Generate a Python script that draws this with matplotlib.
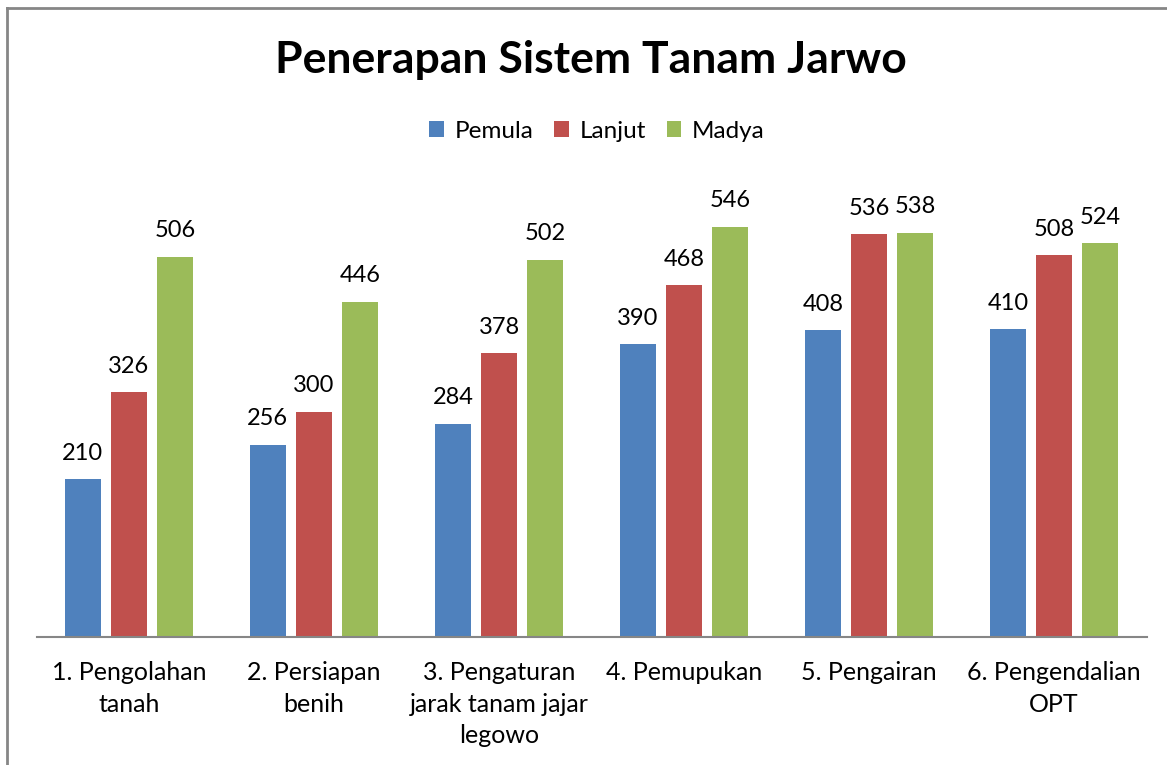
import matplotlib
matplotlib.use("Agg")
import matplotlib.pyplot as plt
from matplotlib.lines import Line2D
from matplotlib.patches import Patch
import numpy as np

categories = ["1. Pengolahan\ntanah", "2. Persiapan\nbenih",
              "3. Pengaturan\njarak tanam jajar\nlegowo", "4. Pemupukan",
              "5. Pengairan", "6. Pengendalian\nOPT"]
series_names = ["Pemula", "Lanjut", "Madya"]
pemula = [210, 256, 284, 390, 408, 410]
lanjut = [326, 300, 378, 468, 536, 508]
madya = [506, 446, 502, 546, 538, 524]
colors = ["#4F81BD", "#C0504D", "#9BBB59"]
title = "Penerapan Sistem Tanam Jarwo"

FONT = "Lato"
W, H = 1167, 765
fig = plt.figure(figsize=(W / 100, H / 100), dpi=100)

# axes placement in pixels
left, right, bottom, top = 36.5, 1146.5, 765 - 637, 765 - 186
ax = fig.add_axes([left / W, bottom / H, (right - left) / W, (top - bottom) / H])

x = np.arange(len(categories))
step = 0.249
width = 0.195
for i, (name, vals) in enumerate(zip(series_names, [pemula, lanjut, madya])):
    bars = ax.bar(x + (i - 1) * step, vals, width=width, color=colors[i], label=name, zorder=2)
    for b, v in zip(bars, vals):
        ax.annotate(str(v), (b.get_x() + b.get_width() / 2, v), xytext=(0, 11),
                    textcoords="offset points", ha="center", va="bottom",
                    fontsize=17, family=FONT, color="#000000")

ax.set_xlim(-0.5, len(categories) - 0.5)
ax.set_ylim(0, 600)
ax.set_yticks([])
for s in ["top", "right", "left"]:
    ax.spines[s].set_visible(False)
ax.spines["bottom"].set_color("#868686")
ax.spines["bottom"].set_linewidth(1.5)
ax.set_xticks(x)
ax.set_xticklabels(categories, fontsize=18, family=FONT, color="#000000", linespacing=1.47)
ax.tick_params(axis="x", length=0, pad=17)

fig.text(591 / W, 1 - 60 / H, title, ha="center", va="center", fontsize=32,
         fontweight="bold", family=FONT)

handles = [Patch(facecolor=c, edgecolor="none") for c in colors]
fig.legend(handles, series_names, loc="center", bbox_to_anchor=(597 / W, 1 - 131 / H),
           ncol=3, frameon=False, prop={"family": FONT, "size": 17.5},
           handlelength=0.6, handleheight=0.6, handletextpad=0.45, columnspacing=0.85)

# frame lines (top and left)
fig.add_artist(Line2D([7 / W, 1], [1 - 8 / H, 1 - 8 / H], transform=fig.transFigure,
                      color="#868686", lw=2))
fig.add_artist(Line2D([7 / W, 7 / W], [0, 1 - 8 / H], transform=fig.transFigure,
                      color="#868686", lw=2))

fig.savefig("out.png", dpi=100)
